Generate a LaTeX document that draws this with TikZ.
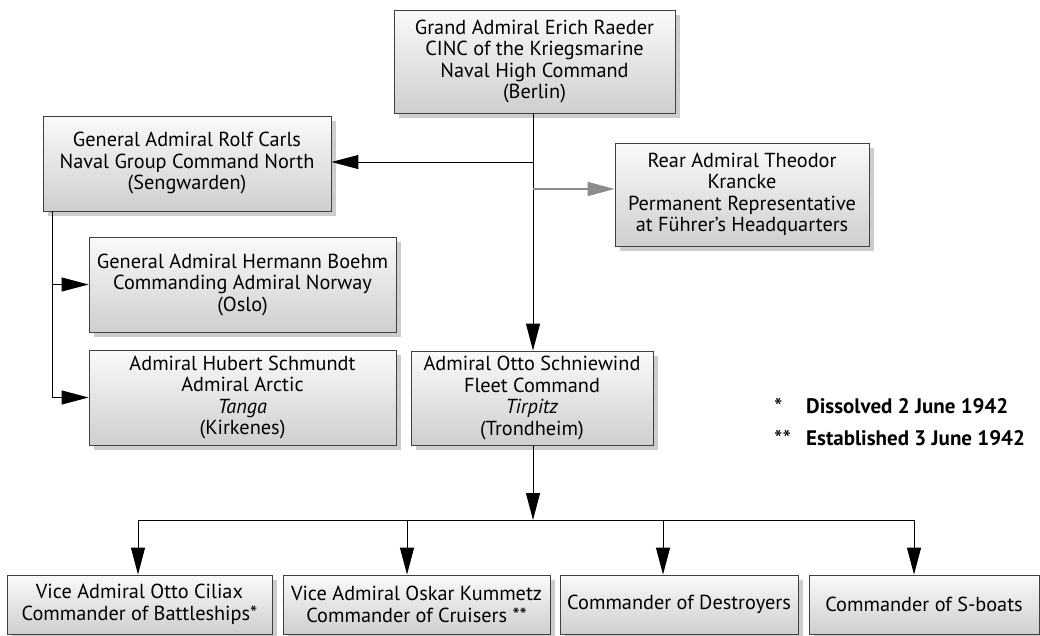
\documentclass[tikz,border=0pt]{standalone}
\usepackage{fontspec}
\setmainfont{PT Sans}
\usetikzlibrary{arrows.meta,shadows}

\begin{document}
\begin{tikzpicture}[x=1pt,y=-1pt,
    unit/.style={draw=black!75, line width=0.9pt, top color=gray!4, bottom color=gray!38,
      drop shadow={shadow xshift=5pt, shadow yshift=-5pt, fill=black!20, opacity=1},
      align=center, inner sep=0pt, font=\fontsize{20.3}{21.5}\selectfont},
    link/.style={line width=1pt, -{Triangle[length=27pt,width=14pt]}},
    note/.style={anchor=base west, inner sep=0pt, font=\fontsize{21}{22}\selectfont}]
    \useasboundingbox (0,0) rectangle (1040,635);

    % command chain
    \node[unit, minimum width=281pt, minimum height=103pt] (raeder) at (534.5,61.5)
        {Grand Admiral Erich Raeder\\CINC of the Kriegsmarine\\Naval High Command\\(Berlin)};
    \node[unit, minimum width=288pt, minimum height=95pt] (carls) at (187,163.5)
        {General Admiral Rolf Carls\\Naval Group Command North\\(Sengwarden)};
    \node[unit, minimum width=254pt, minimum height=103pt] (krancke) at (742,194.5)
        {Rear Admiral Theodor\\Krancke\\Permanent Representative\\at Führer’s Headquarters};
    \node[unit, minimum width=307pt, minimum height=95pt] (boehm) at (242.5,284.5)
        {General Admiral Hermann Boehm\\Commanding Admiral Norway\\(Oslo)};
    \node[unit, minimum width=307pt, minimum height=95pt] (schmundt) at (242.5,397.5)
        {Admiral Hubert Schmundt\\Admiral Arctic\\\textit{Tanga}\\(Kirkenes)};
    \node[unit, minimum width=242pt, minimum height=94pt] (schniewind) at (532,398)
        {Admiral Otto Schniewind\\Fleet Command\\\textit{Tirpitz}\\(Trondheim)};

    % type commanders
    \node[unit, minimum width=265pt, minimum height=59pt] (ciliax) at (139.5,604.5)
        {Vice Admiral Otto Ciliax\\Commander of Battleships*};
    \node[unit, minimum width=267pt, minimum height=59pt] (kummetz) at (416.5,604.5)
        {Vice Admiral Oskar Kummetz\\Commander of Cruisers **};
    \node[unit, minimum width=238pt, minimum height=59pt] (destroyers) at (679,604.5)
        {Commander of Destroyers};
    \node[unit, minimum width=230pt, minimum height=59pt] (sboats) at (924,604.5)
        {Commander of S-boats};

    % legend
    \node[note, font=\fontsize{24}{24}\selectfont] (star1) at (774,415) {*};
    \node[note, font=\fontsize{21}{22}\selectfont\bfseries] (dissolved) at (806,413) {Dissolved 2 June 1942};
    \node[note, font=\fontsize{24}{24}\selectfont] (star2) at (774,447) {**};
    \node[note, font=\fontsize{21}{22}\selectfont\bfseries] (established) at (806,445) {Established 3 June 1942};

    \coordinate (tocarls) at (533,162);
    \coordinate (tokrancke) at (533,189);
    \coordinate (trunk) at (52,211);
    \coordinate (bus) at (533,520);
    \coordinate (tap1) at (138,520);
    \coordinate (tap2) at (407,520);
    \coordinate (tap3) at (663,520);
    \coordinate (tap4) at (914,520);

    \draw[link] (raeder.south -| bus) -- (schniewind.north -| bus);
    \draw[link] (tocarls) -- (tocarls -| carls.east);
    \draw[link, draw=black!45, fill=black!45, line width=1.6pt] (tokrancke) -- (tokrancke -| krancke.west);
    \draw[link] (trunk) |- (boehm.west);
    \draw[link] (trunk) |- (schmundt.west);

    \draw[link] (schniewind.south -| bus) -- (bus);
    \draw[line width=1pt] (tap1) -- (tap4);
    \draw[link] (tap1) -- (tap1 |- ciliax.north);
    \draw[link] (tap2) -- (tap2 |- kummetz.north);
    \draw[link] (tap3) -- (tap3 |- destroyers.north);
    \draw[link] (tap4) -- (tap4 |- sboats.north);
\end{tikzpicture}
\end{document}
